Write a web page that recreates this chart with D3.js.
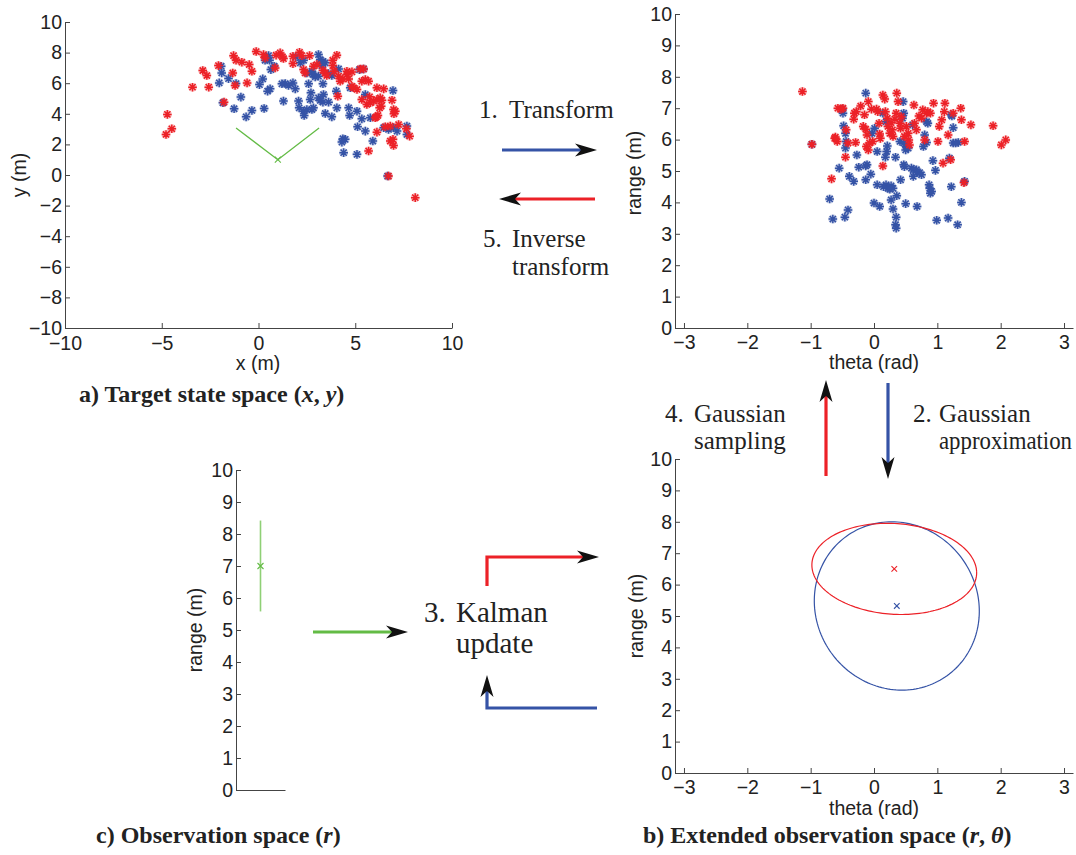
<!DOCTYPE html>
<html>
<head>
<meta charset="utf-8">
<script src="https://cdn.jsdelivr.net/npm/d3@7"></script>
<style>body{margin:0;background:#fff}</style>
</head>
<body>
<script>
// particles in target state space (x, y), metres
const stateRed = [[-4.71,3.96],[-4.48,3.02],[-4.78,2.65],[-3.41,5.74],[-2.57,5.74],[-2.88,6.83],[-2.67,6.5],[-2.07,7.15],[-1.33,6.67],[-1.29,7.8],[-1.16,7.5],[-0.86,7.37],[-0.48,7.22],[-0.34,6.78],[-1.78,4.76],[-1.21,5.85],[-0.59,6.02],[-0.12,8.07],[0.26,7.87],[0.34,7.65],[0.91,7.83],[1.12,7.98],[1.24,7.72],[1.29,7.61],[1.78,7.76],[1.78,7.28],[2.12,8.02],[2.24,7.8],[2.64,7.8],[2.33,6.89],[2.41,6.67],[2.84,7.11],[3.02,7.22],[3.33,6.85],[3.45,6.67],[3.53,6.5],[3.84,7.5],[3.84,7.15],[4.05,7.83],[3.91,6.78],[4.14,6.46],[4.22,6.13],[4.36,6.28],[4.57,6.57],[4.66,6.28],[4.57,6.78],[4.83,6.74],[5.26,6.93],[5.43,6.93],[4.91,5.7],[5.09,5.59],[5.34,6.13],[5.52,6.24],[5.69,6.13],[4.1,5.15],[5.34,4.93],[5.6,4.61],[5.78,4.72],[5.95,4.83],[6.12,4.93],[6.29,5.04],[6.38,4.89],[6.26,4.39],[6.12,5.7],[6.47,5.63],[6.9,4.89],[6.98,4.28],[7.07,4.17],[6.09,3.8],[6.17,3.89],[6.12,2.8],[6.55,3.15],[6.81,3.2],[7.24,3.3],[7.64,3.02],[7.81,2.54],[6.81,2.22],[6.95,2.33],[6.98,1.93],[5.69,1.57],[6.72,-0.07],[8.1,-1.48],[0.86,7.0],[5.74,5.11],[6.34,4.5],[6.03,3.74],[4.83,5.8],[7.0,4.0]];
const stateBlue = [[-1.93,7.11],[-1.9,6.67],[-2.03,6.02],[-1.55,6.3],[-1.16,5.98],[-1.84,4.72],[-1.26,4.33],[-0.91,5.09],[-0.64,3.8],[-0.34,4.22],[0.29,4.35],[0.05,5.91],[0.22,6.28],[0.47,5.48],[0.6,5.63],[0.64,6.89],[0.81,7.11],[0.57,7.5],[0.34,7.5],[0.52,7.8],[1.21,5.96],[1.38,5.98],[1.55,5.85],[1.78,6.02],[1.9,5.63],[1.29,4.83],[2.07,4.83],[2.1,4.39],[2.33,4.17],[2.36,3.89],[2.5,4.28],[2.76,4.28],[2.84,4.39],[2.59,5.96],[2.71,5.37],[2.67,4.93],[3.1,5.04],[3.19,4.87],[3.33,4.76],[3.36,5.26],[3.62,4.76],[2.76,6.78],[2.81,6.57],[2.93,6.41],[3.1,6.46],[3.1,7.87],[3.19,7.54],[3.33,7.43],[3.45,7.33],[3.28,7.15],[3.62,6.63],[3.79,6.5],[2.5,6.67],[1.93,7.72],[2.16,7.33],[2.33,7.5],[3.33,5.96],[4.02,5.48],[4.05,4.39],[3.79,3.8],[3.45,4.02],[4.14,6.93],[4.74,5.7],[4.66,4.39],[4.71,3.89],[5.09,4.17],[5.34,3.67],[5.52,5.26],[5.78,3.74],[5.91,2.22],[5.52,2.87],[5.12,3.15],[4.36,2.37],[4.48,2.33],[4.31,2.15],[4.4,1.46],[5.09,1.35],[6.47,3.09],[6.72,2.98],[6.98,3.09],[7.16,2.87],[7.67,3.2],[7.67,2.65],[6.95,5.52],[6.67,-0.07],[5.22,6.89],[5.43,6.93]];

// same particles in extended observation space (theta rad, range m)
const obsRed = [[-1.13,7.53],[-0.98,5.85],[-0.67,4.75],[-0.62,6.04],[-0.58,5.94],[-0.61,6.08],[-0.57,7.0],[-0.52,6.97],[-0.49,7.0],[-0.45,5.44],[-0.41,5.89],[-0.44,6.31],[-0.31,6.84],[-0.28,6.89],[-0.32,6.65],[-0.29,5.91],[-0.21,7.07],[-0.17,6.42],[-0.15,6.79],[-0.13,6.33],[-0.11,6.15],[-0.12,5.78],[-0.09,7.21],[-0.04,6.97],[0.04,6.97],[0.06,6.89],[0.08,6.52],[0.09,6.18],[0.1,6.04],[-0.02,5.94],[-0.07,5.89],[-0.09,5.67],[0.14,7.42],[0.17,7.29],[0.18,6.89],[0.21,6.68],[0.22,6.42],[0.25,6.2],[0.27,6.54],[0.29,6.31],[0.3,6.1],[0.36,7.48],[0.38,7.21],[0.35,6.84],[0.33,6.65],[0.41,6.52],[0.42,6.36],[0.43,6.73],[0.51,6.42],[0.54,6.2],[0.55,5.99],[0.56,5.83],[0.48,6.1],[0.63,7.1],[0.67,6.31],[0.64,6.52],[0.71,6.75],[0.75,6.68],[0.77,6.95],[0.83,6.84],[0.85,6.89],[0.89,6.84],[0.8,5.99],[0.94,7.16],[1.01,5.94],[1.03,6.42],[1.07,6.63],[1.11,6.89],[1.12,7.16],[1.09,5.25],[1.17,6.15],[1.25,6.84],[1.37,7.0],[1.38,6.63],[1.43,5.94],[1.53,6.47],[1.88,6.44],[2.01,5.83],[2.08,5.99],[1.42,4.63],[0.14,5.16],[1.21,5.36]];
const obsBlue = [[-0.98,5.85],[-0.7,4.11],[-0.65,3.47],[-0.46,3.53],[-0.41,3.76],[-0.55,5.09],[-0.5,6.97],[-0.49,6.84],[-0.48,6.44],[-0.45,6.2],[-0.44,5.94],[-0.45,5.73],[-0.39,4.83],[-0.32,4.67],[-0.27,5.51],[-0.24,5.12],[-0.13,5.16],[-0.11,5.2],[-0.13,4.72],[-0.05,4.9],[-0.13,7.48],[-0.03,6.2],[0.05,4.56],[0.18,5.44],[0.34,5.44],[0.21,5.8],[0.15,4.5],[0.19,4.56],[0.22,4.45],[0.27,4.53],[0.3,4.45],[0.25,4.42],[0.27,4.08],[0.3,3.79],[0.36,4.21],[0.35,3.53],[0.34,3.29],[0.35,3.18],[0.42,4.72],[0.0,3.98],[0.09,3.87],[0.5,3.96],[0.47,5.2],[0.48,5.14],[0.46,7.21],[0.47,6.84],[0.45,6.68],[0.41,5.94],[0.47,5.89],[0.51,5.78],[0.5,5.67],[0.54,5.73],[0.62,4.83],[0.59,5.09],[0.62,5.04],[0.67,5.04],[0.68,4.95],[0.72,4.95],[0.75,4.88],[0.68,3.87],[0.61,6.47],[0.8,6.15],[0.83,5.91],[0.87,4.56],[0.88,4.45],[0.89,4.29],[0.91,4.35],[0.93,5.33],[0.97,5.02],[0.99,3.43],[1.17,3.5],[1.19,5.41],[1.22,4.5],[1.23,6.75],[1.25,5.89],[1.32,3.29],[1.33,5.91],[1.38,4.0],[1.43,4.67],[0.83,6.57],[0.85,6.52],[0.14,6.84],[0.19,6.57],[0.01,6.36],[0.05,5.62],[0.2,5.62],[0.78,5.78],[1.22,6.79],[1.25,6.38],[1.29,5.89]];

// sensor and field of view
const sensor = [1, 1];
const fovEnds = [[-1.16, 3.07], [3.13, 3.07]];

// gaussians (mean, shape matrix) in (theta, range)
const blueMean = [0.36, 5.32];
const blueShape = [[1.3, -0.08], [0, 2.68]];
const redMean = [0.32, 6.5];
const redShape = [[1.3, -0.04], [-0.08, 1.45]];

// range measurement
const measX = 1, measMean = 7, measLow = 5.58, measHigh = 8.42;

const xTicksA = [-10, -5, 0, 5, 10];
const yTicksA = [-10, -8, -6, -4, -2, 0, 2, 4, 6, 8, 10];
const thetaTicks = [-3, -2, -1, 0, 1, 2, 3];
const rangeTicks = [0, 1, 2, 3, 4, 5, 6, 7, 8, 9, 10];

const RED = "#ec2127", BLUE = "#3553a6", GREEN = "#63bb45", LGREEN = "#8fd076";
const SANS = "Liberation Sans, Arial, sans-serif";
const SERIF = "Liberation Serif, Times New Roman, serif";
const TICK = 19.5;
const fmt = d3.format("d");

const svg = d3.select("body").append("svg")
    .attr("width", 1076)
    .attr("height", 855)
    .attr("viewBox", [0, 0, 1076, 855]);
svg.append("rect").attr("width", 1076).attr("height", 855).attr("fill", "#fff");

function styleAxis(g) {
  g.attr("font-size", null).attr("font-family", null);
  g.select(".domain").attr("stroke", "#444");
  g.selectAll(".tick line").attr("stroke", "#444");
  g.selectAll(".tick text").attr("fill", "#222")
    .attr("font-family", SANS).attr("font-size", TICK);
}

function stars(g, data, x, y, color) {
  const r = 4.3, d = r * 0.72;
  const path = ([a, b]) => {
    const px = x(a), py = y(b);
    return `M${px - r},${py}h${2 * r}M${px},${py - r}v${2 * r}` +
      `M${px - d},${py - d}l${2 * d},${2 * d}M${px - d},${py + d}l${2 * d},${-2 * d}`;
  };
  g.append("g").selectAll("path").data(data).join("path")
    .attr("d", path).attr("fill", "none")
    .attr("stroke", color).attr("stroke-width", 3.8).attr("stroke-opacity", 0.28);
  g.append("g").selectAll("path").data(data).join("path")
    .attr("d", path).attr("fill", "none")
    .attr("stroke", color).attr("stroke-width", 1.5);
}

function cross(g, px, py, color, s) {
  g.append("path")
    .attr("d", `M${px - s},${py - s}L${px + s},${py + s}M${px - s},${py + s}L${px + s},${py - s}`)
    .attr("stroke", color).attr("stroke-width", 1.1).attr("fill", "none");
}

function label(text, x, y, rotate) {
  svg.append("text")
    .attr("transform", `translate(${x},${y})` + (rotate ? " rotate(-90)" : ""))
    .attr("text-anchor", "middle")
    .attr("font-family", SANS).attr("font-size", TICK).attr("fill", "#222")
    .text(text);
}

// ---------- a) target state space ----------
const xA = d3.scaleLinear([-10, 10], [65, 452]);
const yA = d3.scaleLinear([-10, 10], [328, 22]);
svg.append("g").attr("transform", "translate(0,328)")
    .call(d3.axisBottom(xA).tickValues(xTicksA).tickFormat(fmt).tickSizeInner(-5).tickSizeOuter(0).tickPadding(8))
    .call(styleAxis);
svg.append("g").attr("transform", "translate(65,0)")
    .call(d3.axisLeft(yA).tickValues(yTicksA).tickFormat(fmt).tickSizeInner(-5).tickSizeOuter(0).tickPadding(3))
    .call(styleAxis);
label("x (m)", 258, 370);
label("y (m)", 26, 175, true);

const plotA = svg.append("g");
stars(plotA, stateBlue, xA, yA, BLUE);
stars(plotA, stateRed, xA, yA, RED);
plotA.append("path")
    .attr("d", d3.line().x(d => xA(d[0])).y(d => yA(d[1]))([fovEnds[0], sensor, fovEnds[1]]))
    .attr("fill", "none").attr("stroke", GREEN).attr("stroke-width", 1.3);
cross(plotA, xA(sensor[0]), yA(sensor[1]), GREEN, 3);

// ---------- b) extended observation space, top (particles) ----------
const xT = d3.scaleLinear([-Math.PI, Math.PI], [675, 1073]);
const yT = d3.scaleLinear([0, 10], [328, 14]);
svg.append("g").attr("transform", "translate(0,328)")
    .call(d3.axisBottom(xT).tickValues(thetaTicks).tickFormat(fmt).tickSizeInner(-5).tickSizeOuter(0).tickPadding(7))
    .call(styleAxis);
svg.append("g").attr("transform", "translate(675,0)")
    .call(d3.axisLeft(yT).tickValues(rangeTicks).tickFormat(fmt).tickSizeInner(-5).tickSizeOuter(0).tickPadding(3))
    .call(styleAxis);
label("theta (rad)", 874, 369);
label("range (m)", 641, 173, true);

const plotT = svg.append("g");
stars(plotT, obsBlue, xT, yT, BLUE);
stars(plotT, obsRed, xT, yT, RED);

// ---------- b) extended observation space, bottom (gaussians) ----------
const xB = d3.scaleLinear([-Math.PI, Math.PI], [675, 1073]);
const yB = d3.scaleLinear([0, 10], [773, 459]);
svg.append("g").attr("transform", "translate(0,773)")
    .call(d3.axisBottom(xB).tickValues(thetaTicks).tickFormat(fmt).tickSizeInner(-5).tickSizeOuter(0).tickPadding(7))
    .call(styleAxis);
svg.append("g").attr("transform", "translate(675,0)")
    .call(d3.axisLeft(yB).tickValues(rangeTicks).tickFormat(fmt).tickSizeInner(-5).tickSizeOuter(0).tickPadding(3))
    .call(styleAxis);
label("theta (rad)", 874, 815);
label("range (m)", 643, 616, true);

const angles = d3.range(0, 2 * Math.PI + 0.01, Math.PI / 90);
function ellipse(mean, A) {
  return angles.map(t => [
    mean[0] + A[0][0] * Math.cos(t) + A[0][1] * Math.sin(t),
    mean[1] + A[1][0] * Math.cos(t) + A[1][1] * Math.sin(t)
  ]);
}
const lineB = d3.line().x(d => xB(d[0])).y(d => yB(d[1]));
svg.append("path").attr("d", lineB(ellipse(blueMean, blueShape)))
    .attr("fill", "none").attr("stroke", BLUE).attr("stroke-width", 1.2);
svg.append("path").attr("d", lineB(ellipse(redMean, redShape)))
    .attr("fill", "none").attr("stroke", RED).attr("stroke-width", 1.2);
cross(svg, xB(redMean[0]), yB(redMean[1]), RED, 2.8);
cross(svg, xB(blueMean[0]), yB(blueMean[1]), BLUE, 2.8);

// ---------- c) observation space ----------
const xC = d3.scaleLinear([0, 2], [236, 285]);
const yC = d3.scaleLinear([0, 10], [790, 470]);
svg.append("g").attr("transform", "translate(0,790)")
    .call(d3.axisBottom(xC).tickValues([]).tickSizeOuter(0))
    .call(styleAxis);
svg.append("g").attr("transform", "translate(236,0)")
    .call(d3.axisLeft(yC).tickValues(rangeTicks).tickFormat(fmt).tickSizeInner(-5).tickSizeOuter(0).tickPadding(3))
    .call(styleAxis);
label("range (m)", 202, 630, true);
svg.append("line")
    .attr("x1", xC(measX)).attr("x2", xC(measX))
    .attr("y1", yC(measLow)).attr("y2", yC(measHigh))
    .attr("stroke", LGREEN).attr("stroke-width", 1.6);
cross(svg, xC(measX), yC(measMean), GREEN, 3);

// ---------- arrows ----------
function arrow(pts, color) {
  const [x1, y1] = pts[pts.length - 2], [x2, y2] = pts[pts.length - 1];
  const a = Math.atan2(y2 - y1, x2 - x1);
  const shaft = pts.slice(0, -1).concat([[x2 - 14 * Math.cos(a), y2 - 14 * Math.sin(a)]]);
  svg.append("path").attr("d", d3.line()(shaft))
    .attr("fill", "none").attr("stroke", color).attr("stroke-width", 3.2);
  svg.append("path")
    .attr("transform", `translate(${x2},${y2}) rotate(${a * 180 / Math.PI})`)
    .attr("d", "M0,0L-22,-6.5L-16,0L-22,6.5Z")
    .attr("fill", "#111");
}
arrow([[502, 150], [597, 150]], BLUE);
arrow([[595, 199], [499, 199]], RED);
arrow([[826, 476], [826, 380]], RED);
arrow([[888, 383], [888, 479]], BLUE);
arrow([[313, 632], [408, 632]], GREEN);
arrow([[487, 586], [487, 557], [599, 557]], RED);
arrow([[597, 708], [487, 708], [487, 675]], BLUE);

// ---------- step annotations ----------
function note(num, lines, x, xw, y, size, lh, widths) {
  const t = svg.append("g").attr("font-family", SERIF).attr("font-size", size).attr("fill", "#222");
  t.append("text").attr("x", x).attr("y", y).text(num);
  lines.forEach((s, i) => {
    const w = t.append("text").attr("x", xw).attr("y", y + i * lh).text(s);
    if (widths && widths[i]) w.attr("textLength", widths[i]).attr("lengthAdjust", "spacingAndGlyphs");
  });
}
note("1.", ["Transform"], 479, 509, 118, 25, 28);
note("5.", ["Inverse", "transform"], 483, 512, 247, 25, 28);
note("4.", ["Gaussian", "sampling"], 665, 694, 422, 25, 27);
note("2.", ["Gaussian", "approximation"], 913, 939, 422, 25, 27, [null, 133]);
note("3.", ["Kalman", "update"], 424, 456, 622, 29, 31);

// ---------- captions ----------
function caption(parts, x, y) {
  const t = svg.append("text").attr("x", x).attr("y", y)
    .attr("font-family", SERIF).attr("font-size", 24).attr("font-weight", "bold").attr("fill", "#222");
  parts.forEach(([s, it]) => t.append("tspan").attr("font-style", it ? "italic" : null).text(s));
}
caption([["a) Target state space ("], ["x", 1], [", "], ["y", 1], [")"]], 79, 402);
caption([["c) Observation space ("], ["r", 1], [")"]], 96, 843);
caption([["b) Extended observation space ("], ["r", 1], [", "], ["θ", 1], [")"]], 643, 843);
</script>
</body>
</html>
